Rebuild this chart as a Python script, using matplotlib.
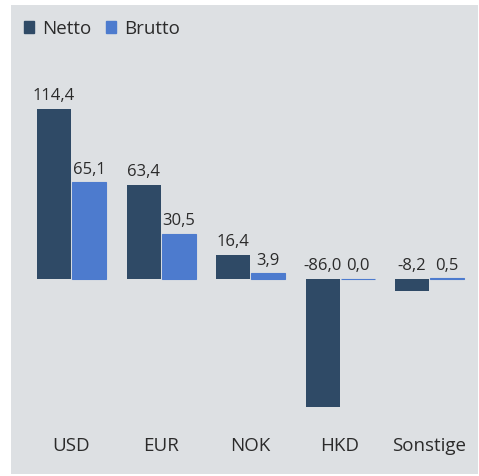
import matplotlib.pyplot as plt
import numpy as np
from matplotlib.patches import Rectangle, Patch

plt.rcParams['font.family'] = ['Open Sans', 'DejaVu Sans']

# data
categories = ['USD', 'EUR', 'NOK', 'HKD', 'Sonstige']
netto = [114.4, 63.4, 16.4, -86.0, -8.2]
brutto = [65.1, 30.5, 3.9, 0.0, 0.5]

netto_color = '#2f4a66'
brutto_color = '#4d7bce'
panel_color = '#dde0e3'
text_color = '#2b2b2b'

W, H = 479, 477
fig = plt.figure(figsize=(W / 100, H / 100), dpi=100)
fig.patch.set_facecolor('white')

# gray panel behind the chart
panel = Rectangle((11 / W, 2 / H), (478 - 11) / W, (475 - 6) / H,
                  transform=fig.transFigure, facecolor=panel_color,
                  edgecolor='none', zorder=-10)
fig.add_artist(panel)

# axes: x from -0.5..4.5 mapped onto pixels, y scaled so zero sits at y=280
px_per_cat = 89.5
x0_px = 71.5 - 0.5 * px_per_cat
ax_left = x0_px
ax_right = x0_px + 5 * px_per_cat
ax_top_px, ax_bot_px = 60, 430
ax = fig.add_axes([ax_left / W, 1 - ax_bot_px / H,
                   (ax_right - ax_left) / W, (ax_bot_px - ax_top_px) / H])
ax.set_zorder(1)
ax.set_facecolor('none')
ax.set_xlim(-0.5, 4.5)
scale = 170 / 114.4
ax.set_ylim(-(ax_bot_px - 280) / scale, (280 - ax_top_px) / scale)

x = np.arange(len(categories))
w = 34 / px_per_cat
gap = 0.5 / px_per_cat
ax.bar(x - w / 2 - gap, netto, width=w, color=netto_color, zorder=2)
ax.bar(x + w / 2 + gap, brutto, width=w, color=brutto_color,
       edgecolor=brutto_color, linewidth=0.8, zorder=2)

def fmt(v):
    return f'{v:.1f}'.replace('.', ',')

for i in range(len(categories)):
    for off, v in ((-w / 2 - gap, netto[i]), (w / 2 + gap, brutto[i])):
        top = max(v, 0)
        ax.annotate(fmt(v), (x[i] + off, top), xytext=(0, 4),
                    textcoords='offset points', ha='center', va='bottom',
                    fontsize=12, color=text_color)

for s in ax.spines.values():
    s.set_visible(False)
ax.set_yticks([])
ax.set_xticks([])
for i, c in enumerate(categories):
    fig.text((x0_px + (i + 0.5) * px_per_cat) / W, 1 - 446 / H, c,
             ha='center', va='center', fontsize=13.5, color=text_color,
             zorder=2)

handles = [Patch(color=netto_color, label='Netto'),
           Patch(color=brutto_color, label='Brutto')]
leg = fig.legend(handles=handles, loc='center left',
                 bbox_to_anchor=(24 / W, 1 - 29.5 / H),
                 ncol=2, frameon=False, fontsize=13.5, handlelength=0.55,
                 handleheight=0.55, handletextpad=0.4, columnspacing=0.8,
                 labelcolor=text_color, borderaxespad=0, borderpad=0)
leg.set_zorder(2)

fig.savefig('out.png', dpi=100)
